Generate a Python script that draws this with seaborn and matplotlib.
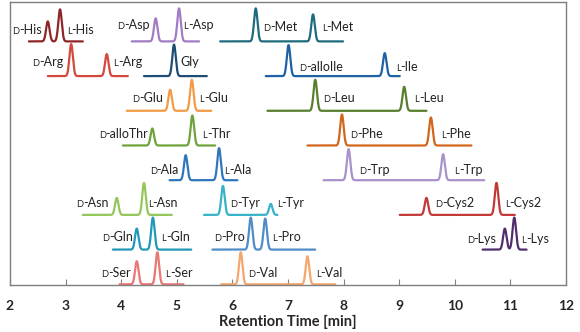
import numpy as np
import pandas as pd
import seaborn as sns
import matplotlib.pyplot as plt
from matplotlib.offsetbox import TextArea, HPacker, AnnotationBbox

sns.set_theme(style="white")
plt.rcParams["font.family"] = ["Lato", "DejaVu Sans"]

# ---- chromatogram data (retention times in min, peak heights in detector units) ----
compounds = ["His", "Asp", "Met", "Arg", "Gly", "Ile", "Glu", "Leu", "Thr", "Phe",
             "Ala", "Trp", "Asn", "Tyr", "Cys2", "Gln", "Pro", "Lys", "Ser", "Val"]
d_names = ["D-His", "D-Asp", "D-Met", "D-Arg", "", "D-alloIle", "D-Glu", "D-Leu",
           "D-alloThr", "D-Phe", "D-Ala", "D-Trp", "D-Asn", "D-Tyr", "D-Cys2",
           "D-Gln", "D-Pro", "D-Lys", "D-Ser", "D-Val"]
l_names = ["L-His", "L-Asp", "L-Met", "L-Arg", "Gly", "L-Ile", "L-Glu", "L-Leu",
           "L-Thr", "L-Phe", "L-Ala", "L-Trp", "L-Asn", "L-Tyr", "L-Cys2",
           "L-Gln", "L-Pro", "L-Lys", "L-Ser", "L-Val"]
rt_d = [2.68, 4.62, 6.42, 3.10, np.nan, 7.01, 4.88, 7.49, 4.56, 7.97,
        5.16, 8.09, 3.92, 5.83, 9.49, 4.28, 6.33, 10.90, 4.28, 6.15]
rt_l = [2.90, 5.04, 7.45, 3.74, 4.95, 8.74, 5.27, 9.09, 5.28, 9.57,
        5.76, 9.79, 4.41, 6.69, 10.75, 4.57, 6.59, 11.07, 4.65, 7.35]
height_d = [20, 23, 33, 32, 0, 31, 21, 31, 17, 31,
            25, 31, 17, 29, 17, 21, 32, 21, 23, 32]
height_l = [32, 33, 27, 22, 31.5, 23, 31, 24, 30, 28,
            32, 26, 32, 11, 32, 32, 31, 32, 32, 28]
run_start = [2.34, 4.19, 5.78, 2.68, 4.41, 6.60, 4.10, 6.63, 4.03, 7.35,
             4.87, 7.64, 3.31, 5.49, 9.01, 3.85, 5.64, 10.50, 3.97, 5.80]
run_end = [3.31, 5.40, 7.99, 4.12, 5.54, 9.01, 5.62, 9.49, 5.69, 10.30,
           6.09, 10.53, 4.91, 6.81, 11.08, 5.26, 7.49, 11.29, 5.12, 7.85]

# ---- layout: stacking row of each trace and where its labels sit ----
stack_row = [7, 7, 7, 6, 6, 6, 5, 5, 4, 4, 3, 3, 2, 2, 2, 1, 1, 1, 0, 0]
row_gap, row_base = 34.7, 0.7
# (x in min, horizontal alignment, height above baseline)
d_label_pos = [(2.57, "right", 11.5), (4.52, "right", 16.5), (6.56, "left", 14),
               (2.96, "right", 14), None, (7.20, "left", 9),
               (4.76, "right", 12.5), (7.63, "left", 12.5),
               (4.49, "right", 11), (8.12, "left", 12),
               (5.04, "right", 10), (8.28, "left", 10),
               (3.78, "right", 12), (5.96, "left", 11.5), (9.64, "left", 12),
               (4.21, "right", 13), (6.23, "right", 13), (10.75, "right", 11),
               (4.18, "right", 11.5), (6.29, "left", 11.5)]
l_label_pos = [(3.02, "left", 11.5), (5.12, "left", 16.5), (7.61, "left", 14),
               (3.86, "left", 14), (5.06, "left", 14), (8.94, "left", 9),
               (5.40, "left", 12.5), (9.27, "left", 13),
               (5.46, "left", 11), (9.75, "left", 12),
               (5.85, "left", 10), (9.99, "left", 10),
               (4.48, "left", 12), (6.80, "left", 11.5), (10.90, "left", 12),
               (4.72, "left", 13), (6.72, "left", 13), (11.20, "left", 11),
               (4.79, "left", 11.5), (7.50, "left", 11.5)]

palette = {
    "His": "#8e2528", "Asp": "#a17cc4", "Met": "#1f6b7e",
    "Arg": "#d4483f", "Gly": "#1d4d74", "Ile": "#1f62a3",
    "Glu": "#f29a46", "Leu": "#587f2e",
    "Thr": "#6ea33c", "Phe": "#d2661d",
    "Ala": "#2f77bd", "Trp": "#a991cb",
    "Asn": "#94c65a", "Tyr": "#37b2c8", "Cys2": "#c23a38",
    "Gln": "#2198b8", "Pro": "#4f8cc9", "Lys": "#502e6e",
    "Ser": "#ea7676", "Val": "#f5a66c",
}

PEAK_SIGMA = 0.031  # min


def peak(t, rt, h):
    if h == 0 or np.isnan(rt):
        return np.zeros_like(t)
    return h * np.exp(-0.5 * ((t - rt) / PEAK_SIGMA) ** 2)


frames = []
for i, name in enumerate(compounds):
    t = np.arange(run_start[i], run_end[i] + 1e-9, 0.002)
    base = row_base + row_gap * stack_row[i]
    signal = base + peak(t, rt_d[i], height_d[i]) + peak(t, rt_l[i], height_l[i])
    frames.append(pd.DataFrame({"time": t, "signal": signal, "compound": name}))
traces = pd.concat(frames, ignore_index=True)

fig = plt.figure(figsize=(5.8, 3.32), dpi=100)
ax = fig.add_axes([10 / 580, 47 / 332, 556 / 580, 283 / 332])

sns.lineplot(data=traces, x="time", y="signal", hue="compound", palette=palette,
             estimator=None, sort=False, legend=False, linewidth=1.6, ax=ax)

LABEL_SIZE = 9.0


def draw_label(text, x, y, ha):
    if text[:2] in ("D-", "L-"):
        parts = [TextArea(text[0], textprops=dict(size=LABEL_SIZE * 0.74, color="#222222")),
                 TextArea(text[1:], textprops=dict(size=LABEL_SIZE, color="#222222"))]
    else:
        parts = [TextArea(text, textprops=dict(size=LABEL_SIZE, color="#222222"))]
    box = HPacker(children=parts, align="baseline", pad=0, sep=0)
    ab = AnnotationBbox(box, (x, y), xycoords="data", frameon=False, pad=0,
                        box_alignment=(0 if ha == "left" else 1, 0.5))
    ax.add_artist(ab)


for i in range(len(compounds)):
    base = row_base + row_gap * stack_row[i]
    if d_label_pos[i] is not None and d_names[i]:
        x, ha, dy = d_label_pos[i]
        draw_label(d_names[i], x, base + dy, ha)
    x, ha, dy = l_label_pos[i]
    draw_label(l_names[i], x, base + dy, ha)

ax.set_xlim(2, 12)
ax.set_ylim(0, 283)
ax.set_xticks(range(2, 13))
ax.set_yticks([])
ax.tick_params(axis="x", direction="in", length=4, width=0.8, color="#808080",
               pad=11, labelsize=10, bottom=True)
for lbl in ax.get_xticklabels():
    lbl.set_fontweight("bold")
ax.set_xlabel("Retention Time [min]", fontsize=10.5, fontweight="bold", labelpad=2)
ax.set_ylabel("")
for sp in ax.spines.values():
    sp.set_color("#7f7f7f")
    sp.set_linewidth(1.0)

fig.savefig("out.png", dpi=100)
